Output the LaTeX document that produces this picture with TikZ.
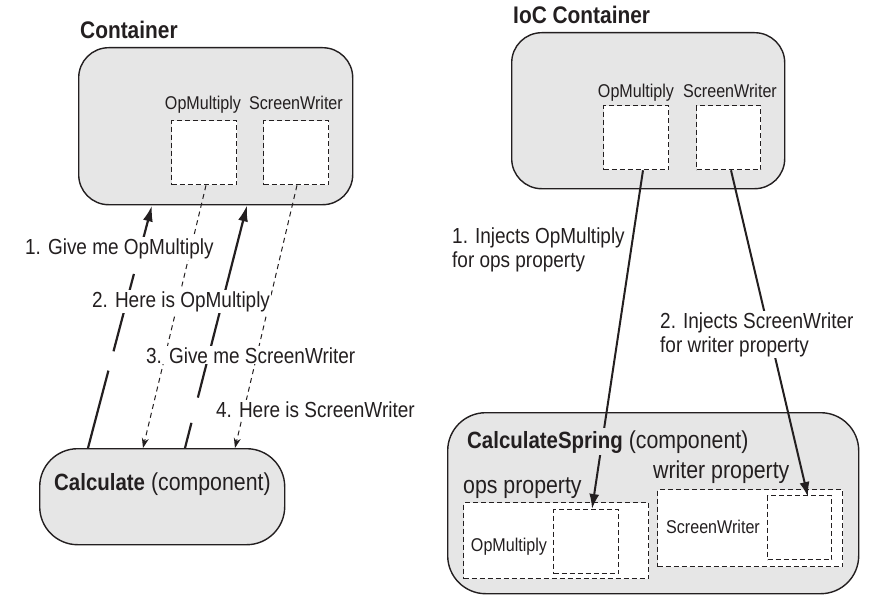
\documentclass[tikz,border=0pt]{standalone}
\usepackage{fontspec}
\setmainfont{Liberation Sans}[FakeStretch=0.87]
\usetikzlibrary{arrows.meta}
\definecolor{boxgray}{HTML}{E6E6E6}
\definecolor{ink}{HTML}{231F20}
\begin{document}
\begin{tikzpicture}[x=1pt,y=-1pt,
  roundbox/.style={draw=ink, line width=1.4pt, fill=boxgray, rounded corners=30pt, inner sep=0pt, anchor=north west},
  dbox/.style={draw=ink, line width=1.3pt, dash pattern=on 5pt off 3pt, fill=white, inner sep=0pt, anchor=north west},
  lbl/.style={font=\fontsize{21.8}{24}\selectfont, text=ink, inner sep=1pt, fill=white, anchor=base west, align=left},
  small/.style={font=\fontsize{18.5}{20}\selectfont, text=ink, inner sep=0pt, anchor=base},
  title/.style={font=\fontsize{24}{26}\selectfont\bfseries, text=ink, inner sep=0pt, anchor=base west},
  comp/.style={font=\fontsize{24.5}{26}\selectfont, text=ink, inner sep=0pt, anchor=base west},
  thickarrow/.style={line width=2.2pt, draw=ink, -{Latex[length=16pt,width=10pt]}},
  solidarrow/.style={line width=2pt, draw=ink, -{Latex[length=15pt,width=10pt]}},
  thinarrow/.style={line width=1pt, draw=ink, dash pattern=on 5pt off 4pt, -{Stealth[length=10pt,width=7pt]}}
]
\useasboundingbox (0,0) rectangle (880,602);

% ---------- left: Container ----------
\node[roundbox, minimum width=274pt, minimum height=157pt] (cont) at (78,47) {};
\node[dbox, minimum width=65pt, minimum height=64pt] (lop) at (171,120) {};
\node[dbox, minimum width=65pt, minimum height=64pt] (lsw) at (263,120) {};
\node[title] (ltitle) at (80,38) {Container};
\node[small] (lopl) at (203,109) {OpMultiply};
\node[small] (lswl) at (296,109) {ScreenWriter};

\node[roundbox, rounded corners=38pt, minimum width=245pt, minimum height=96pt] (calc) at (39,448) {};
\node[comp] (calcl) at (54,490) {{\fontsize{23.5}{26}\selectfont\bfseries Calculate} (component)};

\draw[thickarrow, dash pattern=on 80pt off 20pt] ([xshift=49pt]calc.north west) -- ([xshift=74pt]cont.south west);
\draw[thickarrow, dash pattern=on 26pt off 26pt on 400pt off 1pt] ([xshift=146pt]calc.north west) -- ([xshift=169pt]cont.south west);
\draw[thinarrow] ([xshift=35pt]lop.south west) -- ([xshift=104pt]calc.north west);
\draw[thinarrow] ([xshift=34pt]lsw.south west) -- ([xshift=196pt]calc.north west);

\node[lbl] (g1) at (24,254) {1. Give me OpMultiply};
\node[lbl] (g2) at (91,307) {2. Here is OpMultiply};
\node[lbl] (g3) at (145,363) {3. Give me ScreenWriter};
\node[lbl] (g4) at (215,417) {4. Here is ScreenWriter};

% ---------- right: IoC Container ----------
\node[roundbox, minimum width=273pt, minimum height=156pt] (ioc) at (511,32) {};
\node[dbox, minimum width=65pt, minimum height=64pt] (rop) at (603,105) {};
\node[dbox, minimum width=64pt, minimum height=64pt] (rsw) at (696,105) {};
\node[title] (rtitle) at (513,24) {IoC Container};
\node[small] (ropl) at (636,97) {OpMultiply};
\node[small] (rswl) at (730,97) {ScreenWriter};

\node[roundbox, rounded corners=38pt, minimum width=411pt, minimum height=181pt] (cs) at (447,412) {};
\node[dbox, minimum width=185pt, minimum height=76pt] (opsb) at (463,502) {};
\node[dbox, minimum width=65pt, minimum height=64pt] (opsi) at (553,509) {};
\node[small] (opsil) at (509,551) {OpMultiply};
\node[dbox, minimum width=185pt, minimum height=77pt] (wrb) at (657,489) {};
\node[dbox, minimum width=64pt, minimum height=64pt] (wri) at (767,495) {};
\node[small] (wril) at (713,533) {ScreenWriter};

\draw[solidarrow] ([xshift=40pt]rop.south west) -- ([xshift=39pt]opsi.north west);
\draw[solidarrow] ([xshift=35pt]rsw.south west) -- ([xshift=41pt,yshift=-2pt]wri.north west);

\node[comp, fill=boxgray, inner sep=2pt] (csl) at (465,448) {{\fontsize{23.5}{26}\selectfont\bfseries CalculateSpring} (component)};
\node[comp] (opsl) at (463,493) {ops property};
\node[comp] (wrl) at (653,478) {writer property};

\node[lbl, fill=none] (i1) at (451,267) {1. Injects OpMultiply\\for ops property};
\node[lbl] (i2) at (659,352) {2. Injects ScreenWriter\\for writer property};
\end{tikzpicture}
\end{document}
